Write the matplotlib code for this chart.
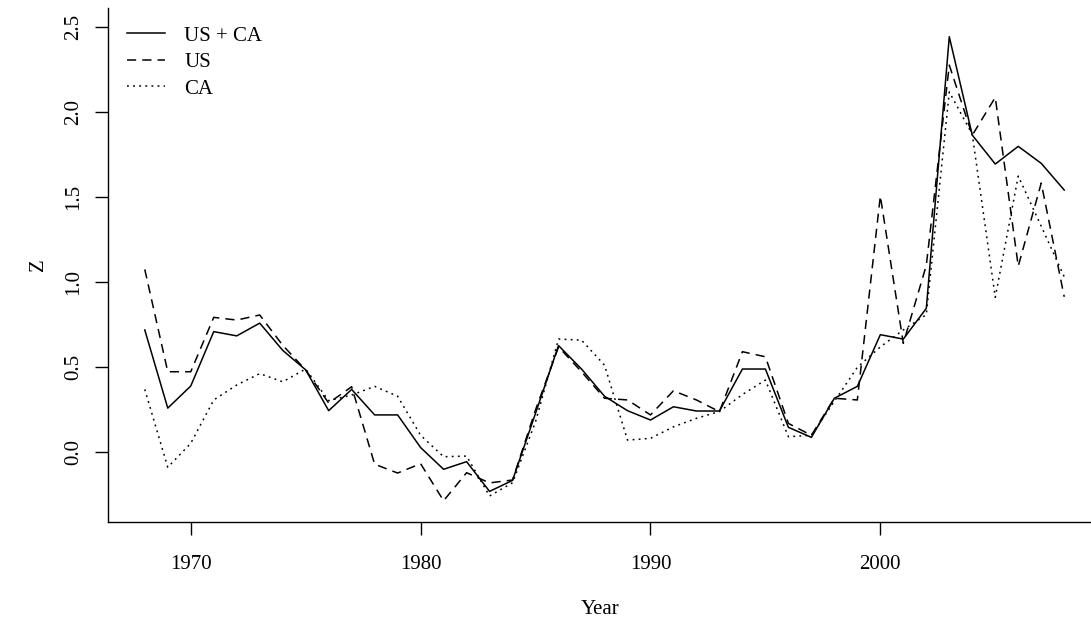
import numpy as np
import matplotlib.pyplot as plt

plt.rcParams['font.family'] = ['Liberation Serif', 'DejaVu Serif']

years = np.arange(1968, 2009)

us_ca = [0.72, 0.26, 0.39, 0.71, 0.685, 0.76, 0.60, 0.485, 0.245, 0.37,
         0.22, 0.22, 0.028, -0.10, -0.055, -0.23, -0.165, 0.23, 0.628, 0.49,
         0.33, 0.245, 0.19, 0.268, 0.243, 0.243, 0.49, 0.49, 0.147, 0.088,
         0.318, 0.388, 0.692, 0.666, 0.847, 2.445, 1.866, 1.696, 1.80, 1.70,
         1.543]

us = [1.076, 0.474, 0.474, 0.794, 0.778, 0.808, 0.63, 0.484, 0.29, 0.386,
      -0.07, -0.122, -0.067, -0.285, -0.12, -0.18, -0.163, 0.25, 0.62, 0.474,
      0.318, 0.308, 0.22, 0.362, 0.308, 0.239, 0.592, 0.562, 0.17, 0.10,
      0.318, 0.308, 1.508, 0.641, 1.10, 2.278, 1.866, 2.088, 1.095, 1.584,
      0.915]

ca = [0.37, -0.088, 0.053, 0.308, 0.396, 0.463, 0.415, 0.49, 0.304, 0.337,
      0.388, 0.33, 0.10, -0.026, -0.022, -0.257, -0.179, 0.18, 0.666, 0.66,
      0.513, 0.072, 0.082, 0.15, 0.20, 0.24, 0.34, 0.425, 0.092, 0.10,
      0.30, 0.50, 0.62, 0.72, 0.81, 2.12, 1.87, 0.912, 1.625, 1.33,
      1.033]

labels = ['US + CA', 'US', 'CA']

W, H = 1091, 627
fig = plt.figure(figsize=(W / 100, H / 100), dpi=100)
# plot region in pixels: left 108, right 1101 (past the edge), top 8, bottom 522
ax = fig.add_axes([108 / W, (H - 522) / H, (1101 - 108) / W, (522 - 8) / H])

ax.plot(years, us_ca, color='black', lw=1.1, ls='-', label=labels[0])
ax.plot(years, us, color='black', lw=1.1, ls=(0, (6.0, 4.0)), label=labels[1])
ax.plot(years, ca, color='black', lw=1.1, ls=(0, (1.2, 2.8)), label=labels[2])

ax.set_xlim(1966.4, 2009.6)
ax.set_ylim(-0.41, 2.614)
ax.set_xticks([1970, 1980, 1990, 2000])
ax.set_yticks([0.0, 0.5, 1.0, 1.5, 2.0, 2.5])
ax.set_yticklabels(['0.0', '0.5', '1.0', '1.5', '2.0', '2.5'], rotation=90, va='center')

for s in ['top', 'right']:
    ax.spines[s].set_visible(False)
for s in ['left', 'bottom']:
    ax.spines[s].set_linewidth(1.0)

ax.tick_params(axis='both', direction='out', length=9.4, width=1.0, labelsize=15)
ax.tick_params(axis='x', pad=14.5)
ax.tick_params(axis='y', pad=8.5)

ax.set_xlabel('Year', fontsize=15)
ax.set_ylabel('Z', fontsize=15)
ax.xaxis.set_label_coords(0.496, -0.151)
ax.yaxis.set_label_coords(-0.060, 0.5)

ax.legend(loc='upper left', bbox_to_anchor=(127 / W, 1 - 26 / H),
          bbox_transform=fig.transFigure, frameon=False, fontsize=15,
          handlelength=1.8, handletextpad=0.95, labelspacing=0.33,
          borderpad=0, borderaxespad=0)

fig.savefig('out.png', dpi=100)
